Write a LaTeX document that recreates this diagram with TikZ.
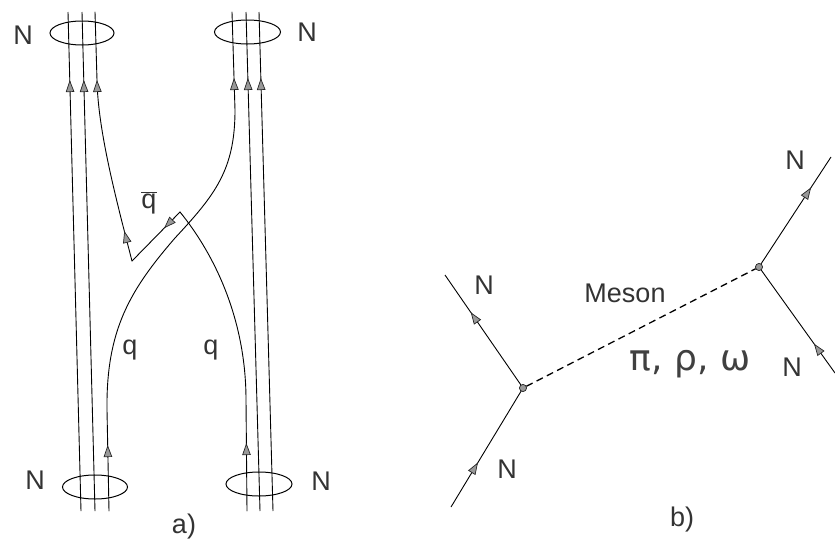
\documentclass[tikz,border=0pt]{standalone}
\usepackage{fontspec}
\setmainfont{Liberation Sans}
\newfontfamily\handfont{DejaVu Sans}
\usetikzlibrary{arrows.meta,decorations.markings,shapes.geometric}
\tikzset{
  arr/.style={postaction={decorate,decoration={markings,mark=at position #1 with {\arrow[line width=0.7pt]{Triangle[length=12pt,width=8.5pt,fill=black!40,color=black!85]}}}}},
  lbl/.style={font=\fontsize{27}{30}\selectfont, text=black!80, inner sep=0pt},
  ring/.style={draw, ellipse, minimum width=64pt, minimum height=24pt, inner sep=0pt, line width=1pt},
  vtx/.style={circle, fill=black!40, draw=black!85, line width=0.6pt, inner sep=0pt, minimum size=7pt},
  meson/.style={line width=1.3pt, dash pattern=on 7pt off 4.5pt},
  qline/.style={line width=0.9pt, line cap=round, line join=round}
}
\begin{document}
\begin{tikzpicture}[x=1pt,y=-1pt,line width=0.9pt]
\useasboundingbox (0,0) rectangle (835,554);
% ---------------- part a ----------------
\node[ring] (tl) at (82,33) {};
\node[ring, minimum width=66pt] (tr) at (247.5,32) {};
\node[ring, minimum width=65pt] (bl) at (95,487) {};
\node[ring, minimum width=66pt] (br) at (259,484) {};
% spectator quarks, left nucleon
\coordinate (l1t) at (68,12);  \coordinate (l1b) at (81,511);
\coordinate (l2t) at (82,12);  \coordinate (l2b) at (95,511);
\draw[arr=-68pt] (l1b) -- (l1t);
\draw[arr=-68pt] (l2b) -- (l2t);
% spectator quarks, right nucleon
\coordinate (r2t) at (246,12); \coordinate (r2b) at (260,511);
\coordinate (r3t) at (259,12); \coordinate (r3b) at (273,511);
\draw[arr=-66pt] (r2b) -- (r2t);
\draw[arr=-66pt] (r3b) -- (r3t);
% exchanged quark: bottom left -> top right
\coordinate (qLb) at (109,511);
\coordinate (r1t) at (232,12);
\draw[qline, arr=66pt, arr=-66pt] (qLb) -- (107,410)
   .. controls (106,330) and (130,290) .. (175,238)
   .. controls (215,195) and (235,170) .. (235,110) -- (r1t);
% exchanged quark: bottom right -> q-bar -> top left
\coordinate (qRb) at (247,511);
\coordinate (c1) at (180,212);
\coordinate (c2) at (132,261);
\coordinate (l3t) at (95,12);
\draw[qline, arr=68pt] (qRb) -- (246,400) .. controls (246,320) and (215,255) .. (c1);
\draw[qline, arr=0.33] (c1) -- (c2);
\draw[qline, arr=31pt, arr=-68pt] (c2) .. controls (115,195) and (98,130) .. (97,80) -- (l3t);
% labels
\node[lbl] (Ntl) at (23,35) {N};
\node[lbl] (Ntr) at (307,32) {N};
\node[lbl] (Nbl) at (35,480) {N};
\node[lbl] (Nbr) at (321,481) {N};
\node[lbl] (qbar) at (149,203) {$\overline{\mbox{q}}$};
\node[lbl] (q1) at (130,350) {q};
\node[lbl] (q2) at (211,350) {q};
\node[lbl] (la) at (184,527) {a)};
% ---------------- part b ----------------
\node[vtx] (vL) at (523,388) {};
\node[vtx] (vR) at (759,267) {};
\coordinate (inL) at (451,507);
\coordinate (outL) at (445,275);
\coordinate (outR) at (831,157);
\coordinate (inR) at (835,373);
\draw[arr=52pt] (inL) -- (vL.center);
\draw[arr=92pt] (vL.center) -- (outL);
\draw[arr=95pt] (vR.center) -- (outR);
\draw[arr=36pt] (inR) -- (vR.center);
\draw[meson] (vL) -- (vR);
\node[vtx] at (vL.center) {};
\node[vtx] at (vR.center) {};
\node[lbl] (N1) at (484,285) {N};
\node[lbl] (N2) at (507,469) {N};
\node[lbl] (N3) at (795,160) {N};
\node[lbl] (N4) at (792,367) {N};
\node[lbl] (mes) at (625,293) {Meson};
\node[lbl, text=black!75, font=\handfont\fontsize{36}{40}\selectfont] (hw) at (690,364) {π, ρ, ω};
\node[lbl] (lb) at (682,520) {b)};
\end{tikzpicture}
\end{document}
